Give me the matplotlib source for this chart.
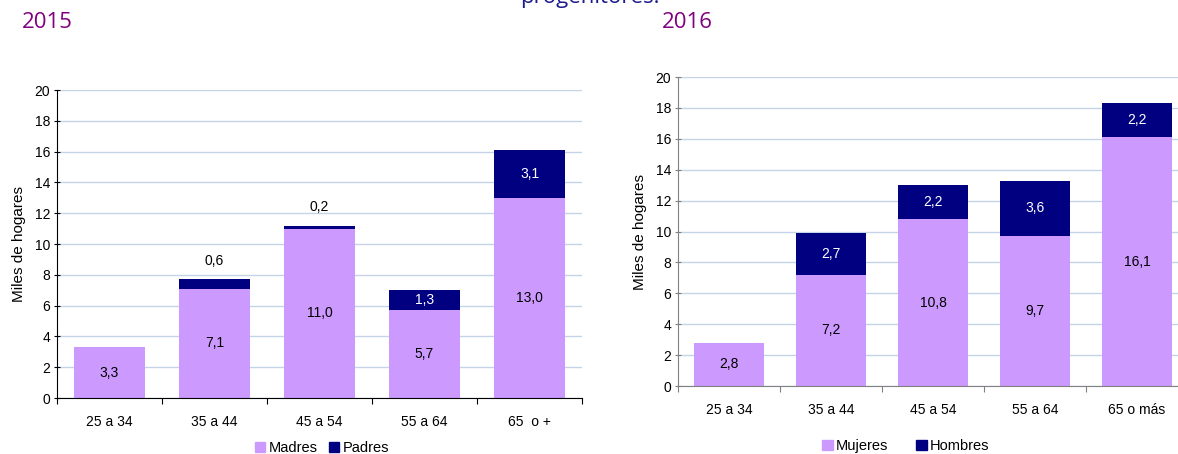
import matplotlib
matplotlib.use("Agg")
import matplotlib.pyplot as plt
import numpy as np
from matplotlib.patches import Patch

plt.rcParams['font.family'] = ['Liberation Sans Narrow', 'Liberation Sans', 'DejaVu Sans']

cats15 = ["25 a 34", "35 a 44", "45 a 54", "55 a 64", "65  o +"]
madres = [3.3, 7.1, 11.0, 5.7, 13.0]
padres = [0.0, 0.6, 0.2, 1.3, 3.1]
padres_lbl = ["", "0,6", "0,2", "1,3", "3,1"]
madres_lbl = ["3,3", "7,1", "11,0", "5,7", "13,0"]

cats16 = ["25 a 34", "35 a 44", "45 a 54", "55 a 64", "65 o más"]
mujeres = [2.8, 7.2, 10.8, 9.7, 16.1]
hombres = [0.0, 2.7, 2.2, 3.6, 2.2]
mujeres_lbl = ["2,8", "7,2", "10,8", "9,7", "16,1"]
hombres_lbl = ["", "2,7", "2,2", "3,6", "2,2"]

C_LIGHT = "#CC99FF"
C_DARK = "#000080"
GRID = "#C5D3E6"

W, H = 1178, 454
fig = plt.figure(figsize=(W / 100, H / 100), dpi=100)

def px_axes(x0, x1, y0, y1):
    return fig.add_axes([x0 / W, (H - y0) / H, (x1 - x0) / W, (y0 - y1) / H])

def draw(ax, cats, low, high, low_lbl, high_lbl, spine_col):
    x = np.arange(len(cats))
    ax.bar(x, low, width=0.68, color=C_LIGHT, zorder=2)
    ax.bar(x, high, width=0.68, bottom=low, color=C_DARK, zorder=2)
    for i in x:
        ax.text(i, low[i] / 2, low_lbl[i], ha='center', va='center', fontsize=10, color='black', zorder=3)
        if high_lbl[i]:
            if high[i] < 1.0:
                ax.text(i, low[i] + high[i] + 1.2, high_lbl[i], ha='center', va='center', fontsize=10, color='black', zorder=3)
            else:
                ax.text(i, low[i] + high[i] / 2, high_lbl[i], ha='center', va='center', fontsize=10, color='white', zorder=3)
    ax.set_xlim(-0.5, len(cats) - 0.5)
    ax.set_ylim(0, 20)
    ax.set_yticks(range(0, 21, 2))
    ax.set_xticks(np.arange(len(cats) + 1) - 0.5, minor=False)
    ax.set_xticklabels([])
    ax.set_xticks(x, minor=True)
    ax.set_xticklabels(cats, minor=True, fontsize=10)
    ax.tick_params(axis='x', which='minor', length=0, pad=12)
    ax.tick_params(axis='x', which='major', length=4, direction='out', color=spine_col)
    ax.tick_params(axis='y', labelsize=10, length=4, direction='inout', color=spine_col, pad=3)
    ax.yaxis.grid(True, color=GRID, linewidth=1, zorder=0)
    ax.set_axisbelow(True)
    for s in ['top', 'right']:
        ax.spines[s].set_visible(False)
    ax.spines['left'].set_color(spine_col)
    ax.spines['bottom'].set_color(spine_col)
    ax.set_ylabel("Miles de hogares", fontsize=11, labelpad=6)

ax1 = px_axes(57, 582, 398, 90)
draw(ax1, cats15, madres, padres, madres_lbl, padres_lbl, 'black')
ax2 = px_axes(678, 1188, 386, 77)
draw(ax2, cats16, mujeres, hombres, mujeres_lbl, hombres_lbl, '#808080')

h1 = [Patch(color=C_LIGHT), Patch(color=C_DARK)]
fig.legend(h1, ["Madres", "Padres"], loc='center', bbox_to_anchor=(322 / W, 1 - 448 / H),
           ncol=2, frameon=False, fontsize=10.5, handlelength=0.7, handleheight=0.7,
           handletextpad=0.25, columnspacing=0.8)
fig.legend(h1, ["Mujeres", "Hombres"], loc='center', bbox_to_anchor=(906 / W, 1 - 446 / H),
           ncol=2, frameon=False, fontsize=10.5, handlelength=0.7, handleheight=0.7,
           handletextpad=0.25, columnspacing=1.9)

fig.text(22 / W, 1 - 22 / H, "2015", fontsize=16, color="#800080", va='center', ha='left',
         family=['Open Sans', 'DejaVu Sans'])
fig.text(662 / W, 1 - 22 / H, "2016", fontsize=16, color="#800080", va='center', ha='left',
         family=['Open Sans', 'DejaVu Sans'])
fig.text(590 / W, 1 - (-3) / H, "progenitores.", fontsize=16, color="#1A1A8C", va='center', ha='center',
         family=['Open Sans', 'DejaVu Sans'])

fig.savefig("out.png", dpi=100)
